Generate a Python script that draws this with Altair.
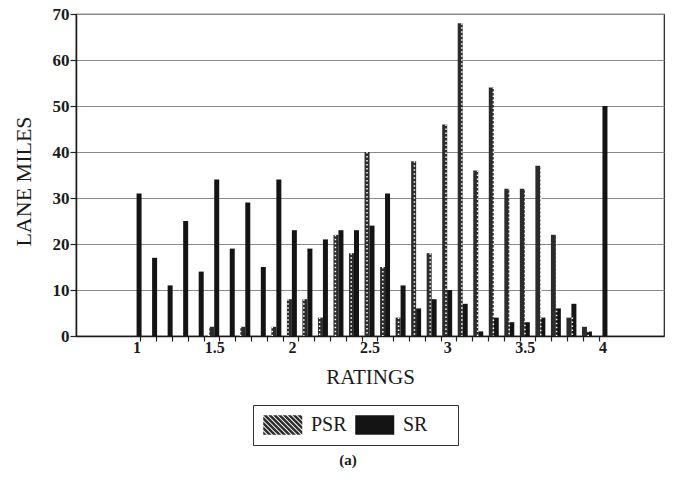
import altair as alt
import pandas as pd

# Pavement condition ratings (0.1 steps) and lane miles per rating
ratings = [1.0, 1.1, 1.2, 1.3, 1.4, 1.5, 1.6, 1.7, 1.8, 1.9,
           2.0, 2.1, 2.2, 2.3, 2.4, 2.5, 2.6, 2.7, 2.8, 2.9,
           3.0, 3.1, 3.2, 3.3, 3.4, 3.5, 3.6, 3.7, 3.8, 3.9, 4.0]
psr = [0, 0, 0, 0, 0, 2, 0, 2, 0, 2,
       8, 8, 4, 22, 18, 40, 15, 4, 38, 18,
       46, 68, 36, 54, 32, 32, 37, 22, 4, 2, 0]
sr = [31, 17, 11, 25, 14, 34, 19, 29, 15, 34,
      23, 19, 21, 23, 23, 24, 31, 11, 6, 8,
      10, 7, 1, 4, 3, 3, 4, 6, 7, 1, 50]
series = ["PSR", "SR"]
x_labels = [1, 1.5, 2, 2.5, 3, 3.5, 4]
y_ticks = [0, 10, 20, 30, 40, 50, 60, 70]

rows = []
for r, p, s in zip(ratings, psr, sr):
    rows.append({"rating": r, "series": "PSR", "miles": p})
    rows.append({"rating": r, "series": "SR", "miles": s})
df = pd.DataFrame(rows)

FONT = "Liberation Serif"
W, H = 588, 322
X_DOMAIN = [0.642, 4.364]


def clip(poly, a, b, c):
    """Keep the part of a polygon where a*x + b*y <= c."""
    out = []
    n = len(poly)
    for i in range(n):
        p, q = poly[i], poly[(i + 1) % n]
        fp = a * p[0] + b * p[1] - c
        fq = a * q[0] + b * q[1] - c
        if fp <= 0:
            out.append(p)
        if (fp < 0 < fq) or (fq < 0 < fp):
            t = fp / (fp - fq)
            out.append((p[0] + t * (q[0] - p[0]), p[1] + t * (q[1] - p[1])))
    return out


def hatch_path(x0, x1, y0, y1, period, dark):
    rect = [(x0, y0), (x1, y0), (x1, y1), (x0, y1)]
    parts = []
    u = (x0 - y1) - period
    while u < x1 - y0 + period:
        poly = clip(rect, -1, 1, -u)            # x - y >= u
        poly = clip(poly, 1, -1, u + dark)      # x - y <= u + dark
        if len(poly) >= 3:
            parts.append("M" + "L".join(f"{px:.3f},{py:.3f}" for px, py in poly) + "Z")
        u += period
    return "".join(parts)


# legend swatches: wide rectangles, hatched for PSR and solid for SR
psr_swatch = hatch_path(-1, 3, -1, 1, 0.5, 0.36)
sr_swatch = "M-1,-1L3,-1L3,1L-1,1Z"

pos = "datum.rating + (datum.series == 'PSR' ? -0.016 : 0.016)"

# small ticks sit between neighbouring rating groups
minor = [round(1.05 + 0.1 * i, 2) for i in range(30)]


def x_scale():
    return alt.Scale(domain=X_DOMAIN, nice=False, zero=False)


y_scale = alt.Scale(domain=[0, 70], nice=False)

x_axis = alt.Axis(
    orient="bottom", values=x_labels, labelExpr="toString(datum.value)",
    labelOverlap=False, labelFlush=False, labelBound=False,
    ticks=False,
    labelFont=FONT, labelFontSize=16, labelFontWeight="bold", labelColor="#1a1a1a",
    labelPadding=3,
    domainColor="#1a1a1a", domainWidth=1.5,
    grid=False,
    title="RATINGS", titleFont=FONT, titleFontSize=21, titleFontWeight="normal",
    titleColor="#1a1a1a", titleBaseline="alphabetic", titleY=47,
)

tick_axis = alt.Axis(
    orient="bottom", values=minor, labels=False, domain=False, grid=False,
    tickSize=5, tickColor="#222", tickWidth=1.2, title=None,
)

y_axis = alt.Axis(
    values=y_ticks,
    labelFont=FONT, labelFontSize=17, labelFontWeight="bold", labelColor="#1a1a1a",
    labelPadding=1,
    tickSize=6, tickColor="#222", tickWidth=1.2,
    domainColor="#1a1a1a", domainWidth=1.5,
    grid=True, gridColor="#8a8a8a", gridWidth=1,
    title="LANE MILES", titleFont=FONT, titleFontSize=22, titleFontWeight="normal",
    titleColor="#1a1a1a", titleBaseline="alphabetic", titleAngle=-90,
    titleX=-46, titleY=167, titleAlign="center",
)

color_scale = alt.Scale(domain=series, range=["#2c2c2c", "#141414"])
# trailing blanks widen the legend box on the right; the zero-width space keeps them
legend = alt.Legend(
    title=None, orient="none", legendX=177, legendY=391, direction="horizontal",
    symbolSize=380, symbolStrokeWidth=0, symbolOpacity=1, labelOffset=28, columnPadding=8,
    labelFont=FONT, labelFontSize=20, labelColor="#1a1a1a",
    labelExpr="datum.label == 'SR' ? 'SR\u00a0\u00a0\u00a0\u00a0\u200b' : datum.label",
    padding=10, strokeColor="#333", fillColor="white",
)

base = alt.Chart(df).transform_calculate(xpos=pos)

bars = base.mark_bar(size=5).encode(
    x=alt.X("xpos:Q", scale=x_scale(), axis=x_axis),
    y=alt.Y("miles:Q", scale=y_scale, axis=y_axis),
    color=alt.Color("series:N", scale=color_scale, legend=legend),
)

# white stipple running down the PSR bars; this layer also carries the small x ticks
stipple = base.transform_filter(
    "datum.series == 'PSR' && datum.miles > 0"
).mark_rule(color="white", strokeDash=[1.5, 2.5], strokeWidth=1.5).encode(
    x=alt.X("xpos:Q", scale=x_scale(), axis=tick_axis),
    y=alt.Y("miles:Q", scale=y_scale, axis=y_axis),
    y2=alt.datum(0),
)

# zero-size points carry the swatch shapes into the legend
swatches = base.mark_point(size=0, filled=True, strokeWidth=0, opacity=1).encode(
    x=alt.X("xpos:Q", scale=x_scale(), axis=None),
    y=alt.Y("miles:Q", scale=y_scale, axis=y_axis),
    color=alt.Color("series:N", scale=color_scale, legend=legend),
    shape=alt.Shape("series:N", scale=alt.Scale(domain=series, range=[psr_swatch, sr_swatch]),
                    legend=legend),
)

chart = alt.layer(bars, stipple, swatches).resolve_scale(
    x="independent"
).properties(
    width=W, height=H,
    padding={"left": 76, "top": 14, "right": 11, "bottom": 146},
    autosize=alt.AutoSizeParams(type="none"),
    background="white",
    title=alt.TitleParams("(a)", orient="bottom", anchor="middle", frame="group",
                          offset=7, dx=-22, baseline="top",
                          font=FONT, fontSize=15, fontWeight="bold", color="#1a1a1a"),
).configure_view(stroke="#1a1a1a", strokeWidth=1.2)

chart.save("out.html", embed_options={"renderer": "svg", "actions": False})
